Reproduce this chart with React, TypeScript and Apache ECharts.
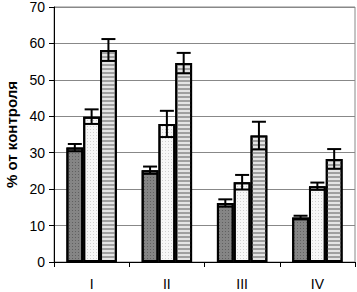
import React, { useEffect, useRef } from "react";
import * as echarts from "echarts";

const categories = ["I", "II", "III", "IV"];
const seriesA = [31.4, 25.2, 16.2, 12.2];
const seriesB = [39.9, 37.9, 21.9, 20.8];
const seriesC = [58.2, 54.6, 34.7, 28.3];
const errA = [1.0, 1.0, 1.0, 0.5];
const errB = [2.0, 3.6, 2.0, 1.0];
const errC = [3.0, 2.8, 3.8, 2.7];
const yTicks = [0, 10, 20, 30, 40, 50, 60, 70];

const GROUP_FRAC = 0.67;

export default function App() {
  const ref = useRef<HTMLDivElement>(null);
  useEffect(() => {
    if (!ref.current) return;
    const chart = echarts.init(ref.current, null, { renderer: "svg" });
    const all = [seriesA, seriesB, seriesC];
    const errs = [errA, errB, errC];
    const errData: number[][] = [];
    all.forEach((s, si) => {
      s.forEach((v, ci) => {
        errData.push([ci, v, errs[si][ci], si]);
      });
    });
    const font = "Liberation Sans, Arial, sans-serif";
    chart.setOption({
      animation: false,
      grid: {
        left: 54,
        right: 2,
        top: 7,
        bottom: 30,
        show: true,
        borderColor: "#888",
        borderWidth: 1,
        outerBoundsMode: "none",
        containLabel: false,
      },
      xAxis: {
        type: "category",
        data: categories,
        axisLine: { lineStyle: { color: "#000", width: 1 } },
        axisTick: { show: true, length: 5, lineStyle: { color: "#000" } },
        axisLabel: { color: "#000", fontSize: 14, fontFamily: font, margin: 15 },
      },
      yAxis: {
        type: "value",
        min: yTicks[0],
        max: yTicks[yTicks.length - 1],
        interval: 10,
        name: "% от контроля",
        nameLocation: "middle",
        nameGap: 35,
        nameTextStyle: { color: "#000", fontSize: 15, lineHeight: 15, fontWeight: "bold", fontFamily: font },
        axisLine: { show: true, lineStyle: { color: "#000", width: 1 } },
        axisTick: { show: true, length: 5, lineStyle: { color: "#000" } },
        axisLabel: { color: "#000", fontSize: 14, lineHeight: 12, fontFamily: font, margin: 9 },
        splitLine: { lineStyle: { color: "#888", width: 1 } },
      },
      series: [
        {
          type: "bar",
          data: seriesA,
          barGap: "0%",
          barCategoryGap: "33%",
          itemStyle: {
            color: "#858585",
            borderColor: "#000",
            borderWidth: 2,
            decal: {
              symbol: "rect",
              symbolSize: 1,
              color: "rgba(60,60,60,0.5)",
              dashArrayX: [1, 2],
              dashArrayY: [1, 2],
              rotation: 0,
            },
          },
        },
        {
          type: "bar",
          data: seriesB,
          itemStyle: {
            color: "#f7f7f7",
            borderColor: "#000",
            borderWidth: 2,
            decal: {
              symbol: "rect",
              symbolSize: 1,
              color: "rgba(180,180,180,0.6)",
              dashArrayX: [1, 2],
              dashArrayY: [1, 2],
              rotation: 0,
            },
          },
        },
        {
          type: "bar",
          data: seriesC,
          itemStyle: {
            color: "#e4e4e4",
            borderColor: "#000",
            borderWidth: 2,
            decal: {
              symbol: "rect",
              symbolSize: 1,
              color: "#a0a0a0",
              dashArrayX: [1, 0],
              dashArrayY: [2, 2],
              rotation: 0,
            },
          },
        },
        {
          type: "custom",
          data: errData,
          z: 10,
          renderItem: (params: any, api: any) => {
            const ci = api.value(0);
            const v = api.value(1);
            const e = api.value(2);
            const si = api.value(3);
            const band = api.size([1, 0])[0];
            const bw = (band * GROUP_FRAC) / 3;
            const c = api.coord([ci, v]);
            const x = c[0] + (si - 1) * bw;
            const yTop = api.coord([ci, v + e])[1];
            const yBot = api.coord([ci, v - e])[1];
            const hw = 7;
            const st = { stroke: "#000", lineWidth: 2 };
            return {
              type: "group",
              children: [
                { type: "line", shape: { x1: x, y1: yTop, x2: x, y2: yBot }, style: st },
                { type: "line", shape: { x1: x - hw, y1: yTop, x2: x + hw, y2: yTop }, style: st },
                { type: "line", shape: { x1: x - hw, y1: yBot, x2: x + hw, y2: yBot }, style: st },
              ],
            };
          },
        },
      ],
    });
    return () => chart.dispose();
  }, []);
  return <div ref={ref} style={{ width: 357, height: 292, position: "absolute", left: 0, top: 0, background: "#fff" }} />;
}
